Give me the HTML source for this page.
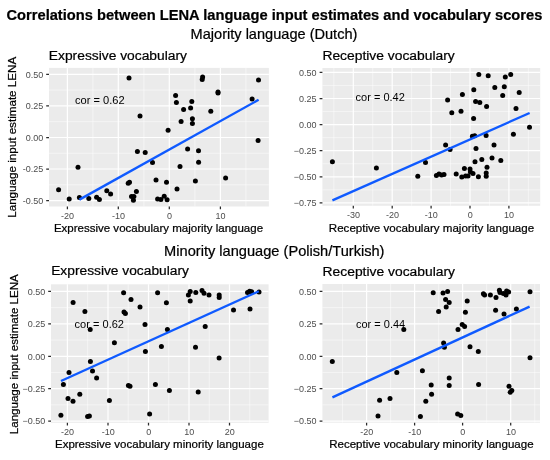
<!DOCTYPE html>
<html><head><meta charset="utf-8"><title>Correlations between LENA language input estimates and vocabulary scores</title>
<style>html,body{margin:0;padding:0;background:#fff}body{width:550px;height:460px;overflow:hidden;font-family:"Liberation Sans",sans-serif}svg{display:block;will-change:transform;filter:blur(0.4px)}</style>
</head><body>
<svg width="550" height="460" viewBox="0 0 550 460" font-family="'Liberation Sans', sans-serif">
<rect width="550" height="460" fill="#fff"/>
<text x="6.5" y="19.8" font-size="14.6" font-weight="bold" fill="#000" stroke="#000" stroke-width="0.22" textLength="535.8" lengthAdjust="spacingAndGlyphs">Correlations between LENA language input estimates and vocabulary scores</text>
<text x="190.6" y="38.8" font-size="14.4" fill="#000" stroke="#000" stroke-width="0.22" textLength="166.8" lengthAdjust="spacingAndGlyphs">Majority language (Dutch)</text>
<text x="164.1" y="255.5" font-size="14.4" fill="#000" stroke="#000" stroke-width="0.22" textLength="220.4" lengthAdjust="spacingAndGlyphs">Minority language (Polish/Turkish)</text>
<g id="p1">
<rect x="49" y="67.9" width="219.9" height="138.6" fill="#EBEBEB"/>
<path d="M49 90.09H268.9M49 121.66H268.9M49 153.24H268.9M49 184.81H268.9M92.9 67.9V206.5M143.9 67.9V206.5M194.9 67.9V206.5M245.9 67.9V206.5" stroke="#fff" stroke-width="0.55" fill="none" opacity="0.9"/>
<path d="M49 74.3H268.9M49 105.9H268.9M49 137.5H268.9M49 169H268.9M49 200.6H268.9M67.4 67.9V206.5M118.3 67.9V206.5M169.3 67.9V206.5M220.4 67.9V206.5" stroke="#fff" stroke-width="1.2" fill="none"/>
<path d="M46.2 74.3H49M46.2 105.9H49M46.2 137.5H49M46.2 169H49M46.2 200.6H49M67.4 206.5V209.3M118.3 206.5V209.3M169.3 206.5V209.3M220.4 206.5V209.3" stroke="#2b2b2b" stroke-width="1.25" fill="none"/>
<g font-size="9.0" fill="#4D4D4D">
<text x="43.2" y="77.55" text-anchor="end">0.50</text>
<text x="43.2" y="109.15" text-anchor="end">0.25</text>
<text x="43.2" y="140.75" text-anchor="end">0.00</text>
<text x="43.2" y="172.25" text-anchor="end">-0.25</text>
<text x="43.2" y="203.85" text-anchor="end">-0.50</text>
<text x="67.6" y="218.9" text-anchor="middle">-20</text>
<text x="118.5" y="218.9" text-anchor="middle">-10</text>
<text x="169.5" y="218.9" text-anchor="middle">0</text>
<text x="220.6" y="218.9" text-anchor="middle">10</text>
</g>
<g fill="#000"><circle cx="129" cy="78" r="2.5"/><circle cx="140" cy="116" r="2.5"/><circle cx="137.4" cy="151.6" r="2.5"/><circle cx="145.2" cy="152.4" r="2.5"/><circle cx="58.6" cy="189.7" r="2.5"/><circle cx="69.2" cy="198.9" r="2.5"/><circle cx="78" cy="167.2" r="2.5"/><circle cx="79.4" cy="197.6" r="2.5"/><circle cx="88.8" cy="198.4" r="2.5"/><circle cx="96.6" cy="197.2" r="2.5"/><circle cx="99.4" cy="199.6" r="2.5"/><circle cx="106.8" cy="190.8" r="2.5"/><circle cx="110.6" cy="194" r="2.5"/><circle cx="128.2" cy="183.3" r="2.5"/><circle cx="129.5" cy="182.2" r="2.5"/><circle cx="131.5" cy="196.5" r="2.5"/><circle cx="133.9" cy="196.5" r="2.5"/><circle cx="133.4" cy="200.3" r="2.5"/><circle cx="136.4" cy="191.5" r="2.5"/><circle cx="152.5" cy="162.4" r="2.5"/><circle cx="156" cy="179.9" r="2.5"/><circle cx="157.6" cy="199.1" r="2.5"/><circle cx="160.9" cy="199.4" r="2.5"/><circle cx="164.2" cy="196.3" r="2.5"/><circle cx="167.1" cy="199.7" r="2.5"/><circle cx="166.5" cy="182.3" r="2.5"/><circle cx="168.1" cy="130.3" r="2.5"/><circle cx="177" cy="188.9" r="2.5"/><circle cx="180" cy="166.4" r="2.5"/><circle cx="181.1" cy="121.4" r="2.5"/><circle cx="187.6" cy="149.1" r="2.5"/><circle cx="192.4" cy="123.5" r="2.5"/><circle cx="192.4" cy="118.8" r="2.5"/><circle cx="198.5" cy="150.8" r="2.5"/><circle cx="198.6" cy="162.2" r="2.5"/><circle cx="195.4" cy="181" r="2.5"/><circle cx="225.6" cy="178" r="2.5"/><circle cx="258.1" cy="140.6" r="2.5"/><circle cx="175.6" cy="95.6" r="2.5"/><circle cx="176.4" cy="102.6" r="2.5"/><circle cx="183.6" cy="109.4" r="2.5"/><circle cx="190.6" cy="108" r="2.5"/><circle cx="191.8" cy="101.6" r="2.5"/><circle cx="202.6" cy="77" r="2.5"/><circle cx="202.2" cy="79.4" r="2.5"/><circle cx="210.8" cy="111.2" r="2.5"/><circle cx="218" cy="92" r="2.5"/><circle cx="218" cy="93" r="2.5"/><circle cx="252.1" cy="98.9" r="2.5"/><circle cx="258.5" cy="80.1" r="2.5"/></g>
<path d="M79.4 199.6L258.6 99.8" stroke="#0F5AFF" stroke-width="2.35" fill="none"/>
<text x="75" y="104" font-size="11" fill="#000" textLength="49.6" lengthAdjust="spacingAndGlyphs">cor = 0.62</text>
<text x="48.8" y="59.8" font-size="13.7" fill="#000" stroke="#000" stroke-width="0.22" textLength="138.2" lengthAdjust="spacingAndGlyphs">Expressive vocabulary</text>
<text x="53.9" y="232" font-size="11.4" fill="#000" stroke="#000" stroke-width="0.22" textLength="209.2" lengthAdjust="spacingAndGlyphs">Expressive vocabulary majority language</text>
<text transform="translate(16 217.8) rotate(-90)" font-size="11.4" fill="#000" stroke="#000" stroke-width="0.22" textLength="161" lengthAdjust="spacingAndGlyphs">Language input estimate LENA</text>
</g>
<g id="p2">
<rect x="322.4" y="68" width="217.8" height="137.8" fill="#EBEBEB"/>
<path d="M322.4 85.45H540.2M322.4 111.55H540.2M322.4 137.65H540.2M322.4 163.75H540.2M322.4 189.85H540.2M333.85 68V205.8M372.75 68V205.8M411.65 68V205.8M450.55 68V205.8M489.45 68V205.8M528.35 68V205.8" stroke="#fff" stroke-width="0.55" fill="none" opacity="0.9"/>
<path d="M322.4 72.4H540.2M322.4 98.5H540.2M322.4 124.6H540.2M322.4 150.7H540.2M322.4 176.8H540.2M322.4 202.9H540.2M353.3 68V205.8M392.2 68V205.8M431.1 68V205.8M470 68V205.8M508.9 68V205.8" stroke="#fff" stroke-width="1.2" fill="none"/>
<path d="M319.6 72.4H322.4M319.6 98.5H322.4M319.6 124.6H322.4M319.6 150.7H322.4M319.6 176.8H322.4M319.6 202.9H322.4M353.3 205.8V208.6M392.2 205.8V208.6M431.1 205.8V208.6M470 205.8V208.6M508.9 205.8V208.6" stroke="#2b2b2b" stroke-width="1.25" fill="none"/>
<g font-size="9.0" fill="#4D4D4D">
<text x="316.6" y="75.65" text-anchor="end">0.50</text>
<text x="316.6" y="101.75" text-anchor="end">0.25</text>
<text x="316.6" y="127.85" text-anchor="end">0.00</text>
<text x="316.6" y="153.95" text-anchor="end">−0.25</text>
<text x="316.6" y="180.05" text-anchor="end">−0.50</text>
<text x="316.6" y="206.15" text-anchor="end">−0.75</text>
<text x="353.5" y="218.2" text-anchor="middle">-30</text>
<text x="392.4" y="218.2" text-anchor="middle">-20</text>
<text x="431.3" y="218.2" text-anchor="middle">-10</text>
<text x="470.2" y="218.2" text-anchor="middle">0</text>
<text x="509.1" y="218.2" text-anchor="middle">10</text>
</g>
<g fill="#000"><circle cx="332.4" cy="161.8" r="2.5"/><circle cx="376.4" cy="168" r="2.5"/><circle cx="417.8" cy="176.2" r="2.5"/><circle cx="425.5" cy="162.4" r="2.5"/><circle cx="436.4" cy="175.4" r="2.5"/><circle cx="439" cy="174" r="2.5"/><circle cx="441.6" cy="175" r="2.5"/><circle cx="444" cy="174.4" r="2.5"/><circle cx="445.6" cy="145" r="2.5"/><circle cx="450.1" cy="149.4" r="2.5"/><circle cx="456.2" cy="174" r="2.5"/><circle cx="461.8" cy="177" r="2.5"/><circle cx="464.4" cy="168.6" r="2.5"/><circle cx="465.6" cy="176" r="2.5"/><circle cx="468" cy="176" r="2.5"/><circle cx="470" cy="169" r="2.5"/><circle cx="470.4" cy="172" r="2.5"/><circle cx="473" cy="173.6" r="2.5"/><circle cx="472.4" cy="136.3" r="2.5"/><circle cx="474.7" cy="135.8" r="2.5"/><circle cx="476" cy="148.5" r="2.5"/><circle cx="475" cy="161.8" r="2.5"/><circle cx="478.4" cy="176.8" r="2.5"/><circle cx="481.8" cy="159.6" r="2.5"/><circle cx="486.1" cy="135.5" r="2.5"/><circle cx="487" cy="167.2" r="2.5"/><circle cx="486.2" cy="173" r="2.5"/><circle cx="486.2" cy="176.2" r="2.5"/><circle cx="492" cy="158" r="2.5"/><circle cx="494" cy="145.1" r="2.5"/><circle cx="500.8" cy="160.6" r="2.5"/><circle cx="513.4" cy="134.2" r="2.5"/><circle cx="529.5" cy="127.2" r="2.5"/><circle cx="447.6" cy="100" r="2.5"/><circle cx="451.8" cy="112.8" r="2.5"/><circle cx="461" cy="111.2" r="2.5"/><circle cx="462.4" cy="94.6" r="2.5"/><circle cx="473.8" cy="89.8" r="2.5"/><circle cx="475.6" cy="101.4" r="2.5"/><circle cx="479.8" cy="102.4" r="2.5"/><circle cx="473.6" cy="118.4" r="2.5"/><circle cx="478.8" cy="74.6" r="2.5"/><circle cx="486.6" cy="106.6" r="2.5"/><circle cx="488.2" cy="75.8" r="2.5"/><circle cx="494.8" cy="87.4" r="2.5"/><circle cx="502.7" cy="95.6" r="2.5"/><circle cx="504.3" cy="86.8" r="2.5"/><circle cx="505.3" cy="77" r="2.5"/><circle cx="510.7" cy="74.5" r="2.5"/><circle cx="516" cy="108.6" r="2.5"/><circle cx="519.2" cy="92.5" r="2.5"/></g>
<path d="M332.4 200.4L529.6 113" stroke="#0F5AFF" stroke-width="2.35" fill="none"/>
<text x="355.6" y="100.6" font-size="11" fill="#000" textLength="49.2" lengthAdjust="spacingAndGlyphs">cor = 0.42</text>
<text x="322.4" y="59.6" font-size="13.7" fill="#000" stroke="#000" stroke-width="0.22" textLength="132.4" lengthAdjust="spacingAndGlyphs">Receptive vocabulary</text>
<text x="328.8" y="232" font-size="11.4" fill="#000" stroke="#000" stroke-width="0.22" textLength="205.4" lengthAdjust="spacingAndGlyphs">Receptive vocabulary majority language</text>
</g>
<g id="p3">
<rect x="51" y="284.3" width="217.6" height="138.5" fill="#EBEBEB"/>
<path d="M51 307.61H268.6M51 340.04H268.6M51 372.46H268.6M51 404.89H268.6M87.66 284.3V422.8M128.19 284.3V422.8M168.71 284.3V422.8M209.24 284.3V422.8M249.76 284.3V422.8" stroke="#fff" stroke-width="0.55" fill="none" opacity="0.9"/>
<path d="M51 291.4H268.6M51 323.9H268.6M51 356.4H268.6M51 388.7H268.6M51 421.1H268.6M67.4 284.3V422.8M108 284.3V422.8M148.5 284.3V422.8M189 284.3V422.8M229.5 284.3V422.8" stroke="#fff" stroke-width="1.2" fill="none"/>
<path d="M48.2 291.4H51M48.2 323.9H51M48.2 356.4H51M48.2 388.7H51M48.2 421.1H51M67.4 422.8V425.6M108 422.8V425.6M148.5 422.8V425.6M189 422.8V425.6M229.5 422.8V425.6" stroke="#2b2b2b" stroke-width="1.25" fill="none"/>
<g font-size="9.0" fill="#4D4D4D">
<text x="45.2" y="294.65" text-anchor="end">0.50</text>
<text x="45.2" y="327.15" text-anchor="end">0.25</text>
<text x="45.2" y="359.65" text-anchor="end">0.00</text>
<text x="45.2" y="391.95" text-anchor="end">−0.25</text>
<text x="45.2" y="424.35" text-anchor="end">−0.50</text>
<text x="67.6" y="435.2" text-anchor="middle">-20</text>
<text x="108.2" y="435.2" text-anchor="middle">-10</text>
<text x="148.7" y="435.2" text-anchor="middle">0</text>
<text x="189.2" y="435.2" text-anchor="middle">10</text>
<text x="229.7" y="435.2" text-anchor="middle">20</text>
</g>
<g fill="#000"><circle cx="73.1" cy="302.6" r="2.5"/><circle cx="84.9" cy="311.5" r="2.5"/><circle cx="90.2" cy="329.6" r="2.5"/><circle cx="90.4" cy="361.5" r="2.5"/><circle cx="92.5" cy="370.9" r="2.5"/><circle cx="69" cy="372.4" r="2.5"/><circle cx="114.4" cy="342.8" r="2.5"/><circle cx="123.6" cy="292.8" r="2.5"/><circle cx="124" cy="312" r="2.5"/><circle cx="125.4" cy="313.6" r="2.5"/><circle cx="131" cy="299.6" r="2.5"/><circle cx="140" cy="307" r="2.5"/><circle cx="145" cy="324.6" r="2.5"/><circle cx="145.4" cy="351.5" r="2.5"/><circle cx="157.6" cy="292.8" r="2.5"/><circle cx="60.9" cy="415.2" r="2.5"/><circle cx="63.4" cy="384.6" r="2.5"/><circle cx="68" cy="398.5" r="2.5"/><circle cx="73" cy="401.2" r="2.5"/><circle cx="79.8" cy="394.2" r="2.5"/><circle cx="87.6" cy="416.4" r="2.5"/><circle cx="89.4" cy="416" r="2.5"/><circle cx="96.6" cy="378" r="2.5"/><circle cx="109.4" cy="400.4" r="2.5"/><circle cx="128.4" cy="385.6" r="2.5"/><circle cx="130" cy="386.2" r="2.5"/><circle cx="149.6" cy="414" r="2.5"/><circle cx="155.4" cy="384.6" r="2.5"/><circle cx="166.4" cy="302.8" r="2.5"/><circle cx="167.4" cy="329.6" r="2.5"/><circle cx="161.4" cy="346.6" r="2.5"/><circle cx="188.4" cy="295" r="2.5"/><circle cx="190.2" cy="291.4" r="2.5"/><circle cx="190.2" cy="301" r="2.5"/><circle cx="195.8" cy="292.4" r="2.5"/><circle cx="202" cy="290.4" r="2.5"/><circle cx="204" cy="293.2" r="2.5"/><circle cx="209" cy="295" r="2.5"/><circle cx="219.2" cy="295" r="2.5"/><circle cx="219.2" cy="297.6" r="2.5"/><circle cx="205.2" cy="326.4" r="2.5"/><circle cx="195.5" cy="347.2" r="2.5"/><circle cx="219.1" cy="357.9" r="2.5"/><circle cx="233.5" cy="310" r="2.5"/><circle cx="250" cy="309" r="2.5"/><circle cx="247.5" cy="292.6" r="2.5"/><circle cx="249.6" cy="291.3" r="2.5"/><circle cx="251.6" cy="291.8" r="2.5"/><circle cx="259" cy="292" r="2.5"/><circle cx="169.4" cy="390.6" r="2.5"/><circle cx="198.2" cy="392" r="2.5"/></g>
<path d="M61 381L258.8 291.3" stroke="#0F5AFF" stroke-width="2.35" fill="none"/>
<text x="74.6" y="327.6" font-size="11" fill="#000" textLength="49.4" lengthAdjust="spacingAndGlyphs">cor = 0.62</text>
<text x="51.2" y="275.3" font-size="13.7" fill="#000" stroke="#000" stroke-width="0.22" textLength="137.7" lengthAdjust="spacingAndGlyphs">Expressive vocabulary</text>
<text x="55" y="447.6" font-size="11.4" fill="#000" stroke="#000" stroke-width="0.22" textLength="208.8" lengthAdjust="spacingAndGlyphs">Expressive vocabulary minority language</text>
<text transform="translate(17.5 434.2) rotate(-90)" font-size="11.4" fill="#000" stroke="#000" stroke-width="0.22" textLength="160" lengthAdjust="spacingAndGlyphs">Language input estimate LENA</text>
</g>
<g id="p4">
<rect x="322.4" y="284" width="217.6" height="138.7" fill="#EBEBEB"/>
<path d="M322.4 307.61H540M322.4 340.04H540M322.4 372.46H540M322.4 404.89H540M342.58 284V422.7M390.62 284V422.7M438.65 284V422.7M486.68 284V422.7M534.72 284V422.7" stroke="#fff" stroke-width="0.55" fill="none" opacity="0.9"/>
<path d="M322.4 291.4H540M322.4 323.9H540M322.4 356.4H540M322.4 388.7H540M322.4 421.1H540M366.6 284V422.7M414.6 284V422.7M462.6 284V422.7M510.7 284V422.7" stroke="#fff" stroke-width="1.2" fill="none"/>
<path d="M319.6 291.4H322.4M319.6 323.9H322.4M319.6 356.4H322.4M319.6 388.7H322.4M319.6 421.1H322.4M366.6 422.7V425.5M414.6 422.7V425.5M462.6 422.7V425.5M510.7 422.7V425.5" stroke="#2b2b2b" stroke-width="1.25" fill="none"/>
<g font-size="9.0" fill="#4D4D4D">
<text x="316.6" y="294.65" text-anchor="end">0.50</text>
<text x="316.6" y="327.15" text-anchor="end">0.25</text>
<text x="316.6" y="359.65" text-anchor="end">0.00</text>
<text x="316.6" y="391.95" text-anchor="end">−0.25</text>
<text x="316.6" y="424.35" text-anchor="end">−0.50</text>
<text x="366.8" y="435.1" text-anchor="middle">-20</text>
<text x="414.8" y="435.1" text-anchor="middle">-10</text>
<text x="462.8" y="435.1" text-anchor="middle">0</text>
<text x="510.9" y="435.1" text-anchor="middle">10</text>
</g>
<g fill="#000"><circle cx="332.3" cy="361.4" r="2.5"/><circle cx="396.8" cy="372.6" r="2.5"/><circle cx="422.4" cy="370.8" r="2.5"/><circle cx="379.6" cy="400.2" r="2.5"/><circle cx="390" cy="398.4" r="2.5"/><circle cx="378" cy="416" r="2.5"/><circle cx="420.4" cy="416.4" r="2.5"/><circle cx="425.8" cy="401.2" r="2.5"/><circle cx="431.2" cy="385" r="2.5"/><circle cx="431.6" cy="394.2" r="2.5"/><circle cx="444.4" cy="347.2" r="2.5"/><circle cx="449.2" cy="378" r="2.5"/><circle cx="449.2" cy="385.6" r="2.5"/><circle cx="457.6" cy="414" r="2.5"/><circle cx="460.8" cy="415.4" r="2.5"/><circle cx="470" cy="346.8" r="2.5"/><circle cx="478.3" cy="351.5" r="2.5"/><circle cx="478.6" cy="384.6" r="2.5"/><circle cx="509" cy="386.2" r="2.5"/><circle cx="511.8" cy="390.6" r="2.5"/><circle cx="510.2" cy="392.2" r="2.5"/><circle cx="403.8" cy="329.6" r="2.5"/><circle cx="433.2" cy="292.8" r="2.5"/><circle cx="443" cy="293" r="2.5"/><circle cx="447.6" cy="291.4" r="2.5"/><circle cx="445.6" cy="299.6" r="2.5"/><circle cx="449.2" cy="302.6" r="2.5"/><circle cx="446.2" cy="307" r="2.5"/><circle cx="438.6" cy="311.4" r="2.5"/><circle cx="443.6" cy="343" r="2.5"/><circle cx="458" cy="329.6" r="2.5"/><circle cx="462.2" cy="324.4" r="2.5"/><circle cx="464.6" cy="326.4" r="2.5"/><circle cx="465.4" cy="312.2" r="2.5"/><circle cx="467.2" cy="301" r="2.5"/><circle cx="483.4" cy="293.8" r="2.5"/><circle cx="484.6" cy="295" r="2.5"/><circle cx="490.4" cy="295" r="2.5"/><circle cx="496" cy="297.6" r="2.5"/><circle cx="495.6" cy="310.2" r="2.5"/><circle cx="499.4" cy="290.2" r="2.5"/><circle cx="500" cy="292.6" r="2.5"/><circle cx="504" cy="314" r="2.5"/><circle cx="503.4" cy="293.4" r="2.5"/><circle cx="506" cy="295" r="2.5"/><circle cx="506.6" cy="291" r="2.5"/><circle cx="508.6" cy="292" r="2.5"/><circle cx="516.4" cy="309" r="2.5"/><circle cx="530" cy="291.8" r="2.5"/><circle cx="530" cy="357.8" r="2.5"/></g>
<path d="M332.4 397.4L529.6 306.6" stroke="#0F5AFF" stroke-width="2.35" fill="none"/>
<text x="356" y="328" font-size="11" fill="#000" textLength="49.2" lengthAdjust="spacingAndGlyphs">cor = 0.44</text>
<text x="322.6" y="275.5" font-size="13.7" fill="#000" stroke="#000" stroke-width="0.22" textLength="132.4" lengthAdjust="spacingAndGlyphs">Receptive vocabulary</text>
<text x="329.2" y="447.6" font-size="11.4" fill="#000" stroke="#000" stroke-width="0.22" textLength="204.4" lengthAdjust="spacingAndGlyphs">Receptive vocabulary minority language</text>
</g>
</svg>
</body></html>
